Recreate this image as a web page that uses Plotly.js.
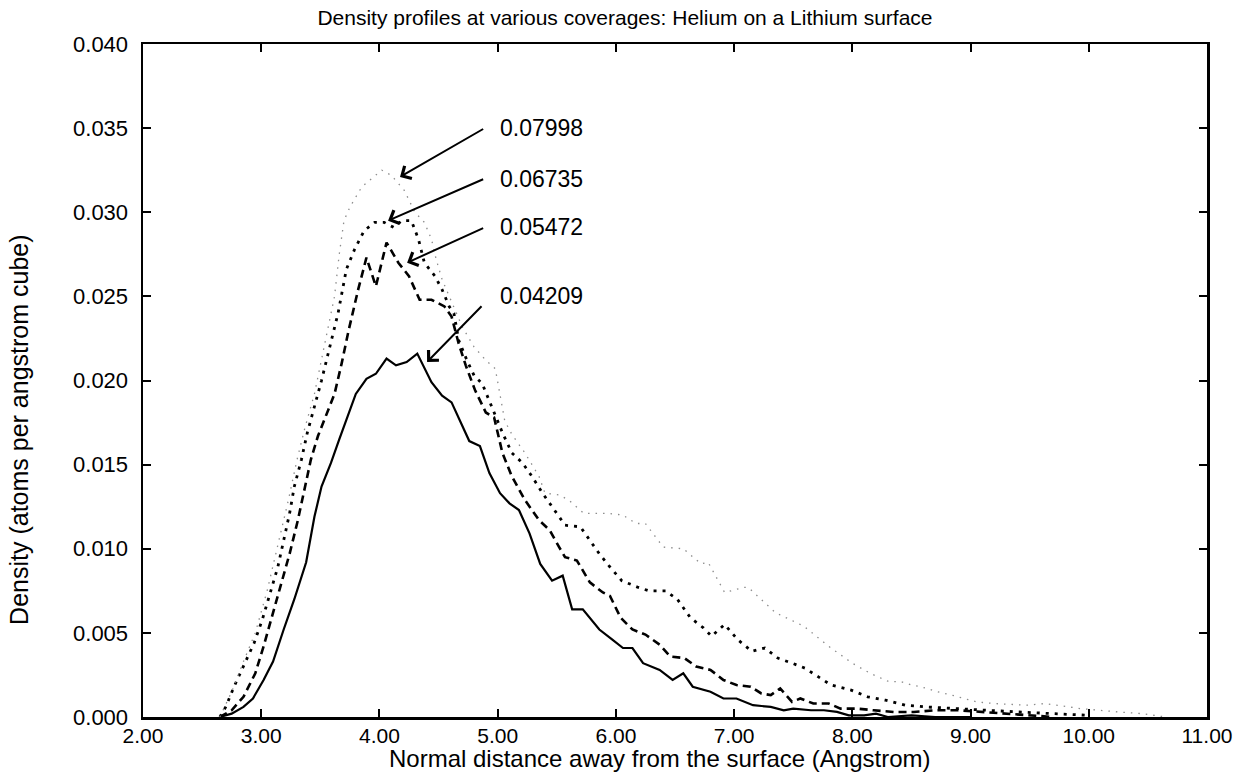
<!DOCTYPE html>
<html>
<head>
<meta charset="utf-8">
<script src="https://cdn.plot.ly/plotly-3.0.1.min.js"></script>
<style>html,body{margin:0;padding:0;background:#fff;}#chart{width:1240px;height:772px;}</style>
</head>
<body>
<div id="chart"></div>
<script>
// Coverage labels
const coverages = ["0.04209", "0.05472", "0.06735", "0.07998"];

// 0.04209 (solid)
const x04209 = [2.65,2.75,2.85,2.93,3.02,3.10,3.19,3.28,3.38,3.45,3.51,3.59,3.66,3.73,3.80,3.89,3.97,4.06,4.14,4.23,4.32,4.44,4.53,4.61,4.68,4.76,4.85,4.93,5.02,5.10,5.18,5.27,5.36,5.46,5.55,5.63,5.72,5.86,5.97,6.06,6.14,6.23,6.37,6.48,6.57,6.65,6.80,6.91,7.02,7.16,7.31,7.42,7.50,7.65,7.76,7.87,7.97,8.10,8.20,8.30,8.50,8.70,9.00];
const y04209 = [0,0.0002,0.0006,0.0011,0.0022,0.0033,0.0052,0.0070,0.0092,0.0119,0.0137,0.0151,0.0165,0.0178,0.0192,0.0201,0.0204,0.0213,0.0209,0.0211,0.0216,0.0199,0.0191,0.0187,0.0176,0.0164,0.0161,0.0145,0.0133,0.0127,0.0123,0.0109,0.0091,0.0081,0.0084,0.0064,0.0064,0.0052,0.0046,0.0041,0.0041,0.0032,0.0028,0.0022,0.0026,0.0018,0.0015,0.0011,0.0011,0.0007,0.0006,0.0004,0.0005,0.0004,0.0004,0.0003,0.0001,0.0001,0.0002,0.0000,0.0001,0,0];

// 0.05472 (dashed)
const x05472 = [2.65,2.75,2.85,2.95,3.02,3.10,3.17,3.24,3.31,3.36,3.42,3.48,3.55,3.62,3.68,3.74,3.82,3.89,3.97,4.06,4.16,4.25,4.34,4.44,4.55,4.61,4.67,4.73,4.81,4.90,4.97,5.04,5.12,5.23,5.35,5.44,5.52,5.57,5.67,5.78,5.89,5.95,6.04,6.14,6.25,6.37,6.46,6.58,6.68,6.80,6.91,7.02,7.14,7.23,7.31,7.39,7.49,7.56,7.67,7.80,7.90,8.04,8.18,8.35,8.52,8.70,8.90,9.10,9.30,9.50,9.70];
const y05472 = [0,0.0004,0.0012,0.0026,0.0042,0.0062,0.0080,0.0097,0.0117,0.0133,0.0153,0.0167,0.0180,0.0192,0.0210,0.0230,0.0254,0.0273,0.0256,0.0282,0.0270,0.0262,0.0248,0.0248,0.0244,0.0238,0.0222,0.0209,0.0194,0.0181,0.0178,0.0157,0.0143,0.0129,0.0117,0.0111,0.0101,0.0095,0.0093,0.0080,0.0074,0.0072,0.0059,0.0052,0.0049,0.0043,0.0036,0.0035,0.0030,0.0028,0.0022,0.0019,0.0018,0.0014,0.0013,0.0017,0.0009,0.0011,0.0008,0.0008,0.0005,0.0005,0.0004,0.0003,0.0003,0.0004,0.0004,0.0003,0.0002,0.0001,0];

// 0.06735 (dotted)
const x06735 = [2.65,2.70,2.77,2.85,2.94,3.01,3.08,3.14,3.19,3.24,3.28,3.34,3.39,3.45,3.51,3.58,3.65,3.72,3.79,3.87,3.96,4.04,4.12,4.19,4.27,4.33,4.38,4.47,4.53,4.59,4.63,4.67,4.74,4.80,4.87,4.97,5.04,5.12,5.21,5.29,5.38,5.46,5.57,5.70,5.78,5.86,5.94,6.05,6.19,6.28,6.42,6.52,6.63,6.74,6.81,6.92,7.03,7.15,7.26,7.37,7.49,7.60,7.71,7.82,7.99,8.13,8.28,8.45,8.62,8.85,9.10,9.40,9.70,10.00];
const y06735 = [0,0.0006,0.0018,0.0030,0.0044,0.0058,0.0074,0.0089,0.0105,0.0121,0.0137,0.0153,0.0169,0.0184,0.0200,0.0220,0.0240,0.0266,0.0278,0.0289,0.0294,0.0294,0.0291,0.0295,0.0295,0.0284,0.0270,0.0262,0.0254,0.0244,0.0240,0.0224,0.0212,0.0203,0.0198,0.0181,0.0169,0.0157,0.0151,0.0143,0.0133,0.0125,0.0114,0.0113,0.0105,0.0097,0.0090,0.0081,0.0077,0.0075,0.0075,0.0070,0.0059,0.0053,0.0048,0.0055,0.0046,0.0039,0.0041,0.0035,0.0032,0.0029,0.0024,0.0019,0.0016,0.0012,0.0010,0.0007,0.0006,0.0005,0.0004,0.0003,0.0002,0.0001];

// 0.07998 (faint dotted)
const x07998 = [2.65,2.75,2.85,2.95,3.05,3.15,3.23,3.30,3.37,3.45,3.55,3.62,3.66,3.70,3.75,3.85,3.95,4.02,4.10,4.21,4.30,4.38,4.44,4.48,4.53,4.60,4.70,4.80,4.90,4.98,5.06,5.12,5.23,5.35,5.40,5.52,5.60,5.73,5.94,6.06,6.17,6.25,6.40,6.57,6.72,6.78,6.92,7.08,7.12,7.35,7.59,7.80,8.00,8.15,8.31,8.41,8.50,8.58,8.72,8.84,9.05,9.20,9.48,9.63,9.93,10.25,10.45,10.65];
const y07998 = [0,0.0015,0.0033,0.0050,0.0075,0.0105,0.0129,0.0152,0.0172,0.0192,0.0225,0.0250,0.0275,0.0295,0.0303,0.0315,0.0321,0.0325,0.0322,0.0313,0.0300,0.0294,0.0284,0.0272,0.0260,0.0248,0.0232,0.0220,0.0212,0.0207,0.0176,0.0168,0.0157,0.0143,0.0133,0.0132,0.0129,0.0121,0.0121,0.0120,0.0115,0.0115,0.0101,0.0100,0.0091,0.0092,0.0074,0.0077,0.0077,0.0062,0.0054,0.0042,0.0032,0.0026,0.0021,0.0021,0.0019,0.0018,0.0015,0.0013,0.0009,0.0008,0.0007,0.0008,0.0005,0.0003,0.0002,0];

// Axis tick values
const xTicks = [2,3,4,5,6,7,8,9,10,11];
const yTicks = [0,0.005,0.010,0.015,0.020,0.025,0.030,0.035,0.040];

const FONT = "Liberation Sans, Arial, Helvetica, sans-serif";

const traces = [
  {x: x04209, y: y04209, name: coverages[0], mode: "lines", line: {color: "#000", width: 2.2}},
  {x: x05472, y: y05472, name: coverages[1], mode: "lines", line: {color: "#000", width: 2.6, dash: "8px,5px"}},
  {x: x06735, y: y06735, name: coverages[2], mode: "lines", line: {color: "#000", width: 2.8, dash: "3px,6px"}},
  {x: x07998, y: y07998, name: coverages[3], mode: "lines", line: {color: "#8c8c8c", width: 1.3, dash: "1.5px,6px"}}
];

// label placement (text left edge / arrow tail / arrow head), in axis units
const labelX = 5.00;
const labelY = [0.0250, 0.0291, 0.0320, 0.0350];
const tailX = [4.876, 4.89, 4.89, 4.89];
const tailY = [0.0245, 0.0291, 0.0320, 0.0350];
const headX = [4.403, 4.234, 4.073, 4.174];
const headY = [0.0211, 0.0270, 0.0295, 0.0321];

const annotations = [];
for (let i = 0; i < coverages.length; i++) {
  annotations.push({
    x: labelX, y: labelY[i], xref: "x", yref: "y", text: coverages[i],
    showarrow: false, xanchor: "left", yanchor: "middle",
    font: {family: FONT, size: 23, color: "#000"}
  });
  annotations.push({
    x: headX[i], y: headY[i], xref: "x", yref: "y",
    ax: tailX[i], ay: tailY[i], axref: "x", ayref: "y",
    text: "", showarrow: true, arrowhead: 4, arrowsize: 1.4, arrowwidth: 2, arrowcolor: "#000"
  });
}
// axis titles
annotations.push({
  xref: "paper", yref: "paper", x: 0.486, y: -0.062, xanchor: "center", yanchor: "middle",
  text: "Normal distance away from the surface (Angstrom)", showarrow: false,
  font: {family: FONT, size: 24, color: "#000"}
});
annotations.push({
  xref: "paper", yref: "paper", x: -0.116, y: 0.426, xanchor: "center", yanchor: "middle",
  text: "Density (atoms per angstrom cube)", showarrow: false, textangle: -90,
  font: {family: FONT, size: 25, color: "#000"}
});

const axisCommon = {
  showgrid: false, zeroline: false, ticks: "inside", ticklen: 8, tickwidth: 2, tickcolor: "#000",
  showline: true, linecolor: "#000", linewidth: 2.5, mirror: "ticks",
  tickfont: {family: FONT, size: 22, color: "#000"}
};

const layout = {
  width: 1240, height: 772,
  margin: {l: 143, r: 33, t: 44, b: 55},
  paper_bgcolor: "#fff", plot_bgcolor: "#fff",
  showlegend: false,
  title: {text: "Density profiles at various coverages: Helium on a Lithium surface",
          x: 0.504, xanchor: "center", y: 0.977, yanchor: "middle",
          font: {family: FONT, size: 21, color: "#000"}},
  xaxis: Object.assign({}, axisCommon, {range: [2, 11], tickvals: xTicks, tickformat: ".2f", ticklabelstandoff: -2,
                                        tickfont: {family: FONT, size: 21, color: "#000"}}),
  yaxis: Object.assign({}, axisCommon, {range: [0, 0.04], tickvals: yTicks, tickformat: ".3f", ticklabelstandoff: 8}),
  annotations: annotations
};

Plotly.newPlot("chart", traces, layout, {displayModeBar: false, staticPlot: true});
</script>
</body>
</html>
